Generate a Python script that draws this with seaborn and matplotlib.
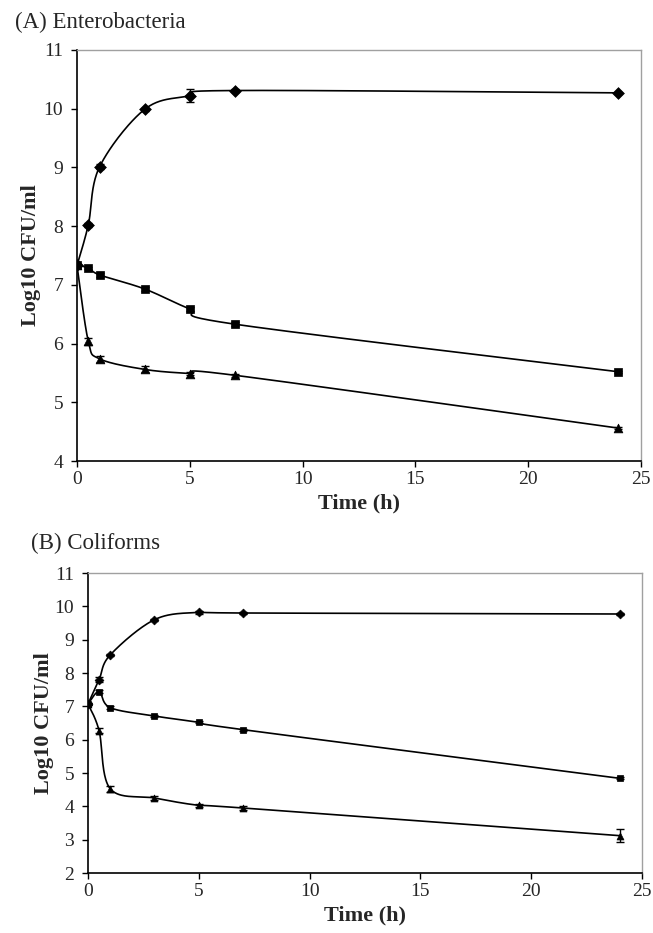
import numpy as np
import pandas as pd
import matplotlib
matplotlib.use("Agg")
import matplotlib.pyplot as plt
import seaborn as sns

# ---- data ----
time_h = [0, 0.5, 1, 3, 5, 7, 24]

# (A) Enterobacteria
a_diamond = [7.33, 8.02, 9.01, 9.99, 10.22, 10.31, 10.27]
a_diamond_err = [0.03, 0.03, 0.04, 0.03, 0.11, 0.03, 0.02]
a_square = [7.33, 7.29, 7.17, 6.93, 6.59, 6.33, 5.52]
a_square_err = [0.03, 0.02, 0.03, 0.03, 0.03, 0.03, 0.02]
a_triangle = [7.33, 6.04, 5.74, 5.56, 5.49, 5.46, 4.56]
a_triangle_err = [0.03, 0.06, 0.05, 0.05, 0.03, 0.03, 0.02]

# (B) Coliforms
b_diamond = [7.07, 7.80, 8.54, 9.60, 9.82, 9.80, 9.77]
b_diamond_err = [0.03, 0.08, 0.04, 0.03, 0.04, 0.02, 0.02]
b_square = [7.07, 7.44, 6.96, 6.71, 6.52, 6.30, 4.84]
b_square_err = [0.03, 0.05, 0.04, 0.03, 0.03, 0.03, 0.03]
b_triangle = [7.07, 6.27, 4.53, 4.25, 4.03, 3.95, 3.12]
b_triangle_err = [0.03, 0.07, 0.09, 0.05, 0.05, 0.05, 0.20]

panel_titles = ["(A) Enterobacteria", "(B) Coliforms"]
x_label = "Time (h)"
y_label = "Log10 CFU/ml"
x_ticks = [0, 5, 10, 15, 20, 25]
a_yticks = [4, 5, 6, 7, 8, 9, 10, 11]
b_yticks = [2, 3, 4, 5, 6, 7, 8, 9, 10, 11]

sns.set_theme(style="white")
plt.rcParams["font.family"] = ["Liberation Serif", "DejaVu Serif"]


def smooth_curve(x, y, n=40):
    """Excel-style smoothed line (Catmull-Rom Bezier) through the data points."""
    x = np.asarray(x, float)
    y = np.asarray(y, float)
    P = np.column_stack([x, y])
    pts = []
    m = len(P)
    for i in range(m - 1):
        p0 = P[i - 1] if i > 0 else P[i]
        p1 = P[i]
        p2 = P[i + 1]
        p3 = P[i + 2] if i + 2 < m else P[i + 1]
        c1 = p1 + (p2 - p0) / 6.0
        c2 = p2 - (p3 - p1) / 6.0
        t = np.linspace(0, 1, n)[:, None]
        seg = ((1 - t) ** 3) * p1 + 3 * ((1 - t) ** 2) * t * c1 + 3 * (1 - t) * t ** 2 * c2 + t ** 3 * p2
        pts.append(seg if i == 0 else seg[1:])
    pts = np.vstack(pts)
    return pts[:, 0], pts[:, 1]


W, H = 653, 933
fig = plt.figure(figsize=(W / 100, H / 100), dpi=100)

panels = [
    dict(rect=[77 / W, 1 - 461 / H, (641 - 77) / W, (461 - 50) / H],
         ylim=(4, 11), yticks=a_yticks, title_xy=(15 / W, 1 - 22 / H), ylabelpad=2,
         msizes={"D": 6.0, "s": 6.3, "^": 6.3},
         series=[(a_diamond, a_diamond_err, "D"), (a_square, a_square_err, "s"), (a_triangle, a_triangle_err, "^")],
         title=panel_titles[0]),
    dict(rect=[88 / W, 1 - 873 / H, (642 - 88) / W, (873 - 573) / H],
         ylim=(2, 11), yticks=b_yticks, title_xy=(31 / W, 1 - 543 / H), ylabelpad=0,
         msizes={"D": 4.5, "s": 5.0, "^": 5.0},
         series=[(b_diamond, b_diamond_err, "D"), (b_square, b_square_err, "s"), (b_triangle, b_triangle_err, "^")],
         title=panel_titles[1]),
]

for p in panels:
    ax = fig.add_axes(p["rect"])
    for vals, errs, mk in p["series"]:
        sx, sy = smooth_curve(time_h, vals)
        sns.lineplot(x=sx, y=sy, ax=ax, color="black", linewidth=1.2, sort=False, estimator=None)
        ax.errorbar(time_h, vals, yerr=errs, fmt="none", ecolor="black", elinewidth=1.0, capsize=3, capthick=1.0)
        size = p["msizes"][mk]
        sns.scatterplot(x=time_h, y=vals, ax=ax, marker=mk, color="black", s=size ** 2, edgecolor="black",
                        linewidth=0.5, zorder=5)
    ax.set_xlim(0, 25)
    ax.set_ylim(*p["ylim"])
    ax.set_xticks(x_ticks)
    ax.set_yticks(p["yticks"])
    ax.tick_params(axis="both", which="major", direction="out", length=4, width=1.0, color="black",
                   labelsize=14, pad=3, bottom=True, left=True, top=False, right=False)
    ax.tick_params(axis="y", pad=6)
    for side in ["left", "bottom"]:
        ax.spines[side].set_color("black")
        ax.spines[side].set_linewidth(1.2)
    for side in ["top", "right"]:
        ax.spines[side].set_color("#a0a0a0")
        ax.spines[side].set_linewidth(1.0)
    ax.set_xlabel(x_label, fontsize=16, fontweight="bold", labelpad=4)
    ax.set_ylabel(y_label, fontsize=16, fontweight="bold", labelpad=p["ylabelpad"])
    ax.grid(False)
    fig.text(p["title_xy"][0], p["title_xy"][1], p["title"], fontsize=16.5, ha="left", va="center")

fig.savefig("out.png", dpi=100, facecolor="white")
